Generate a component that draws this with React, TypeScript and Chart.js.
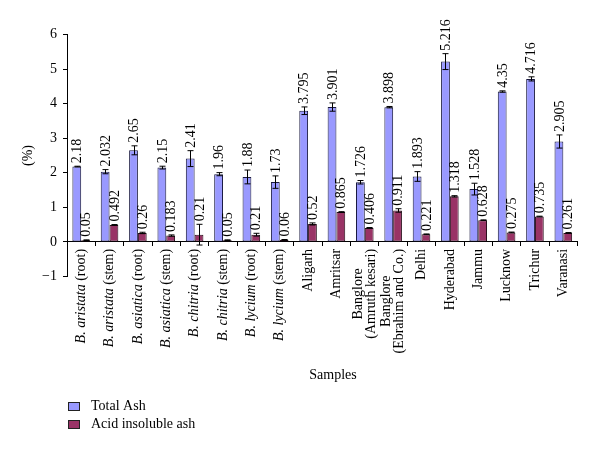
import React, { useEffect, useRef } from "react";
import { Chart, registerables } from "chart.js";

Chart.register(...registerables);

const categories: string[] = [
  "B. aristata (root)",
  "B. aristata (stem)",
  "B. asiatica (root)",
  "B. asiatica (stem)",
  "B. chitria (root)",
  "B. chitria (stem)",
  "B. lycium (root)",
  "B. lycium (stem)",
  "Aligarh",
  "Amritsar",
  "Banglore\n(Amruth kesari)",
  "Banglore\n(Ebrahim and Co.)",
  "Delhi",
  "Hyderabad",
  "Jammu",
  "Lucknow",
  "Trichur",
  "Varanasi",
];

const totalAsh: number[] = [2.18, 2.032, 2.65, 2.15, 2.41, 1.96, 1.88, 1.73, 3.795, 3.901, 1.726, 3.898, 1.893, 5.216, 1.528, 4.35, 4.716, 2.905];
const totalAshErr: number[] = [0.01, 0.06, 0.13, 0.04, 0.23, 0.045, 0.2, 0.18, 0.11, 0.12, 0.05, 0.02, 0.14, 0.23, 0.17, 0.02, 0.06, 0.19];
const acidAsh: number[] = [0.05, 0.492, 0.26, 0.183, 0.21, 0.05, 0.21, 0.06, 0.52, 0.865, 0.406, 0.911, 0.221, 1.318, 0.628, 0.275, 0.735, 0.261];
const acidAshErr: number[] = [0.01, 0.01, 0.02, 0.02, 0.3, 0.01, 0.04, 0.01, 0.03, 0.01, 0.01, 0.05, 0.01, 0.02, 0.01, 0.01, 0.01, 0.01];

const seriesNames: string[] = ["Total Ash", "Acid insoluble ash"];
const yTicks: number[] = [-1, 0, 1, 2, 3, 4, 5, 6];
const yAxisTitle = "(%)";
const xAxisTitle = "Samples";

const FONT = "'Liberation Serif', 'Times New Roman', serif";

const overlayPlugin = {
  id: "overlay",
  afterDatasetsDraw(chart: any) {
    const ctx: CanvasRenderingContext2D = chart.ctx;
    const xScale = chart.scales.x;
    const yScale = chart.scales.y;
    const errs = [totalAshErr, acidAshErr];
    ctx.save();
    // error bars
    chart.data.datasets.forEach((ds: any, di: number) => {
      const meta = chart.getDatasetMeta(di);
      meta.data.forEach((el: any, i: number) => {
        const v = ds.data[i];
        const e = errs[di][i];
        const yT = yScale.getPixelForValue(v + e);
        const yB = yScale.getPixelForValue(v - e);
        const x = Math.round(el.x) + 0.5;
        ctx.strokeStyle = "#000";
        ctx.lineWidth = 1;
        ctx.beginPath();
        ctx.moveTo(x, yT);
        ctx.lineTo(x, yB);
        ctx.moveTo(x - 3, yT);
        ctx.lineTo(x + 3, yT);
        ctx.moveTo(x - 3, yB);
        ctx.lineTo(x + 3, yB);
        ctx.stroke();
      });
    });
    // data labels
    ctx.fillStyle = "#000";
    ctx.font = `14px ${FONT}`;
    ctx.textAlign = "left";
    ctx.textBaseline = "middle";
    chart.data.datasets.forEach((ds: any, di: number) => {
      const meta = chart.getDatasetMeta(di);
      meta.data.forEach((el: any, i: number) => {
        const v = ds.data[i];
        const e = errs[di][i];
        const yT = yScale.getPixelForValue(v + e);
        ctx.save();
        ctx.translate(el.x + 1, yT - 3);
        ctx.rotate(-Math.PI / 2);
        ctx.fillText(String(v), 0, 0);
        ctx.restore();
      });
    });
    // category labels (mixed italic)
    const zeroY = yScale.getPixelForValue(0);
    const lh = 13;
    chart.data.labels.forEach((lab: string, i: number) => {
      const x = xScale.getPixelForValue(i);
      const lines = String(lab).split("\n");
      const segsPerLine = lines.map((line) => {
        if (line.startsWith("B. ")) {
          const k = line.indexOf(" (");
          return [
            { t: line.slice(0, k), it: true },
            { t: line.slice(k), it: false },
          ];
        }
        return [{ t: line, it: false }];
      });
      const widths = segsPerLine.map((segs) =>
        segs.reduce((w, s) => {
          ctx.font = `${s.it ? "italic " : ""}14px ${FONT}`;
          return w + ctx.measureText(s.t).width;
        }, 0)
      );
      const maxW = Math.max(...widths);
      ctx.save();
      ctx.translate(x, zeroY + 7);
      ctx.rotate(-Math.PI / 2);
      ctx.textAlign = "left";
      ctx.textBaseline = "middle";
      segsPerLine.forEach((segs, j) => {
        let cx = -maxW / 2 - widths[j] / 2;
        const cy = (j - (lines.length - 1) / 2) * lh;
        segs.forEach((s) => {
          ctx.font = `${s.it ? "italic " : ""}14px ${FONT}`;
          ctx.fillText(s.t, cx, cy);
          cx += ctx.measureText(s.t).width;
        });
      });
      ctx.restore();
    });
    // x axis title
    ctx.font = `14px ${FONT}`;
    ctx.textAlign = "center";
    ctx.textBaseline = "middle";
    ctx.fillText(xAxisTitle, 333, 375);
    // legend
    chart.data.datasets.forEach((ds: any, di: number) => {
      const by = 402 + di * 18;
      ctx.fillStyle = ds.backgroundColor;
      ctx.fillRect(68, by, 12, 9);
      ctx.strokeStyle = "#222";
      ctx.lineWidth = 1;
      ctx.strokeRect(68.5, by + 0.5, 11, 8);
      ctx.fillStyle = "#000";
      ctx.textAlign = "left";
      ctx.fillText(ds.label, 91, by + 4.5);
    });
    ctx.restore();
  },
};

export default function App() {
  const ref = useRef<HTMLCanvasElement | null>(null);
  useEffect(() => {
    if (!ref.current) return;
    const chart = new Chart(ref.current, {
      type: "bar",
      data: {
        labels: categories,
        datasets: [
          {
            label: seriesNames[0],
            data: totalAsh,
            backgroundColor: "#9999FF",
            borderColor: "#1a1a40",
            borderWidth: 1,
            borderSkipped: false,
            categoryPercentage: 0.62,
            barPercentage: 1,
          },
          {
            label: seriesNames[1],
            data: acidAsh,
            backgroundColor: "#993366",
            borderColor: "#2a0f1c",
            borderWidth: 1,
            borderSkipped: false,
            categoryPercentage: 0.62,
            barPercentage: 1,
          },
        ],
      },
      options: {
        animation: false,
        responsive: false,
        layout: { padding: { left: 0, top: 34.5, right: 22.5, bottom: 178.5 } },
        plugins: { legend: { display: false }, tooltip: { enabled: false } },
        scales: {
          x: {
            type: "category",
            position: { y: 0 } as any,
            offset: true,
            ticks: { display: false },
            grid: { offset: true, drawOnChartArea: false, drawTicks: true, tickLength: 4, color: "#000" },
            border: { display: true, color: "#000", width: 1 },
          },
          y: {
            min: -1,
            max: 6,
            afterBuildTicks: (scale: any) => {
              scale.ticks = yTicks.map((v) => ({ value: v }));
            },
            afterFit: (scale: any) => {
              scale.width = 67;
            },
            ticks: {
              color: "#000",
              font: { family: FONT, size: 14 },
              padding: 6,
              callback: (v: any) => (Number(v) < 0 ? "\u2212" + Math.abs(Number(v)) : String(v)),
            },
            grid: { drawOnChartArea: false, drawTicks: true, tickLength: 4, color: "#000" },
            border: { display: true, color: "#000", width: 1 },
            title: {
              display: true,
              text: yAxisTitle,
              color: "#000",
              font: { family: FONT, size: 14 },
              padding: { top: 19.6, bottom: 0 },
            },
          },
        },
      },
      plugins: [overlayPlugin],
    });
    return () => chart.destroy();
  }, []);
  return (
    <div style={{ position: "absolute", left: 0, top: 0, width: 600, height: 455, background: "#fff" }}>
      <canvas ref={ref} width={600} height={455} style={{ display: "block" }} />
    </div>
  );
}
